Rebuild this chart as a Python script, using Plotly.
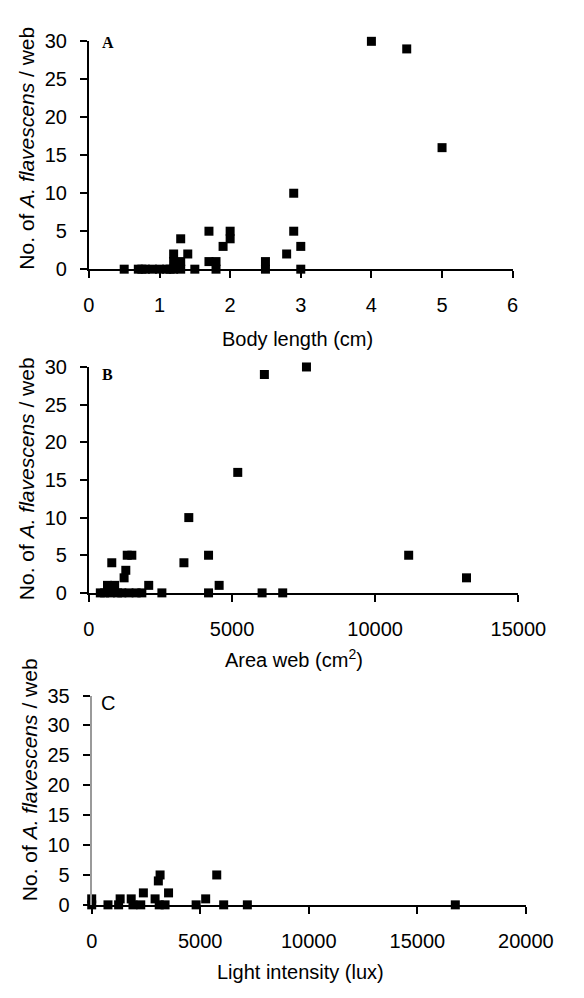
import plotly.graph_objects as go

W, H = 584, 998

# ---- data ----
body_length = [0.5, 0.7, 0.75, 0.8, 0.9, 1.0, 1.1, 1.15, 1.2, 1.2, 1.2, 1.3, 1.3, 1.3, 1.4, 1.5,
               1.7, 1.7, 1.8, 1.8, 1.9, 2.0, 2.0, 2.5, 2.5, 2.8, 2.9, 2.9, 3.0, 3.0, 4.0, 4.5, 5.0]
count_a = [0, 0, 0, 0, 0, 0, 0, 0, 0, 1, 2, 0, 1, 4, 2, 0,
           5, 1, 1, 0, 3, 5, 4, 1, 0, 2, 10, 5, 3, 0, 30, 29, 16]

web_area = [400, 550, 650, 750, 800, 900, 1000, 1150, 1230, 1290, 1340, 1400, 1500, 1650, 1850,
            2090, 2550, 3320, 3490, 4180, 4180, 4550, 5200, 6050, 6130, 6770, 7600, 11170, 13190]
count_b = [0, 0, 1, 0, 4, 1, 0, 0, 2, 3, 5, 0, 5, 0, 0,
           1, 0, 4, 10, 5, 0, 1, 16, 0, 29, 0, 30, 5, 2]

light = [0, 0, 750, 1240, 1310, 1820, 1900, 2260, 2380, 2920, 3070, 3110, 3150, 3380, 3540,
         4810, 5250, 5760, 6080, 7170, 16750]
count_c = [0, 1, 0, 0, 1, 1, 0, 0, 2, 1, 4, 0, 5, 0, 2,
           0, 1, 5, 0, 0, 0]

ticks_a_x = [0, 1, 2, 3, 4, 5, 6]
ticks_b_x = [0, 5000, 10000, 15000]
ticks_c_x = [0, 5000, 10000, 15000, 20000]
ticks_ab_y = [0, 5, 10, 15, 20, 25, 30]
ticks_c_y = [0, 5, 10, 15, 20, 25, 30, 35]

FONT = "Liberation Sans, Arial, sans-serif"
TICKFONT = dict(family=FONT, size=20, color="black")


def px_x(p):
    return p / W


def px_y(p):
    return 1 - p / H


# pixel geometry of each panel: (x_left, x_right, y_top, y_bottom)
panels = [
    dict(x=(88, 538), y=(31, 264), xr=[0, 6], yr=[0, 30], xt=ticks_a_x, yt=ticks_ab_y,
         data=(body_length, count_a), ylc="black"),
    dict(x=(88, 544), y=(364, 595), xr=[0, 15000], yr=[0, 30], xt=ticks_b_x, yt=ticks_ab_y,
         data=(web_area, count_b), ylc="black"),
    dict(x=(91, 552), y=(700, 914), xr=[0, 20000], yr=[0, 35], xt=ticks_c_x, yt=ticks_c_y,
         data=(light, count_c), ylc="#9a9a9a"),
]

fig = go.Figure()
layout = {}
for i, p in enumerate(panels, start=1):
    xa = "x" if i == 1 else f"x{i}"
    ya = "y" if i == 1 else f"y{i}"
    fig.add_trace(go.Scatter(
        x=p["data"][0], y=p["data"][1], mode="markers", xaxis=xa, yaxis=ya,
        marker=dict(symbol="square", size=9, color="black", line=dict(width=0)),
        cliponaxis=False, showlegend=False, hoverinfo="x+y"))
    common = dict(showgrid=False, zeroline=False, showline=True, linewidth=2,
                  ticks="outside", ticklen=7, tickwidth=2, tickcolor="black",
                  tickfont=TICKFONT, fixedrange=True)
    layout["xaxis" if i == 1 else f"xaxis{i}"] = dict(
        common, domain=[px_x(p["x"][0]), px_x(p["x"][1])], range=p["xr"],
        tickvals=p["xt"], ticktext=[str(v) for v in p["xt"]], linecolor="black",
        anchor=ya, ticklabelstandoff=10)
    layout["yaxis" if i == 1 else f"yaxis{i}"] = dict(
        common, domain=[px_y(p["y"][1]), px_y(p["y"][0])], range=p["yr"],
        tickvals=p["yt"], ticktext=[str(v) for v in p["yt"]], linecolor=p["ylc"],
        anchor=xa, ticklabelstandoff=9)

fig.update_layout(**layout)

ann = []
ytitle = "No. of <i>A. flavescens</i> / web"
for (cx, cy) in [(22, 140), (22, 478), (25, 786)]:
    ann.append(dict(text=ytitle, x=px_x(cx), y=px_y(cy), xref="paper", yref="paper",
                    showarrow=False, textangle=-90, xanchor="center", yanchor="middle",
                    font=dict(family=FONT, size=21, color="black")))
for (txt, cx, cy) in [("Body length (cm)", 310, 335),
                      ("Area web (cm<sup>2</sup>)", 306, 662),
                      ("Light intensity (lux)", 313, 983)]:
    ann.append(dict(text=txt, x=px_x(cx), y=px_y(cy), xref="paper", yref="paper",
                    showarrow=False, xanchor="center", yanchor="middle",
                    font=dict(family=FONT, size=20, color="black")))
ann.append(dict(text="<b>A</b>", x=px_x(108), y=px_y(32), xref="paper", yref="paper",
                showarrow=False, xanchor="center", yanchor="middle",
                font=dict(family="Liberation Serif, Times New Roman, serif", size=16, color="black")))
ann.append(dict(text="<b>B</b>", x=px_x(108), y=px_y(372), xref="paper", yref="paper",
                showarrow=False, xanchor="center", yanchor="middle",
                font=dict(family="Liberation Serif, Times New Roman, serif", size=16, color="black")))
ann.append(dict(text="C", x=px_x(108), y=px_y(708), xref="paper", yref="paper",
                showarrow=False, xanchor="center", yanchor="middle",
                font=dict(family=FONT, size=20, color="black")))

fig.update_layout(width=W, height=H, margin=dict(l=0, r=0, t=0, b=0),
                  paper_bgcolor="white", plot_bgcolor="white", annotations=ann,
                  showlegend=False)

fig.write_html("out.html", config={"displayModeBar": False},
               post_script="document.body.style.margin='0';document.body.style.overflow='hidden';")
